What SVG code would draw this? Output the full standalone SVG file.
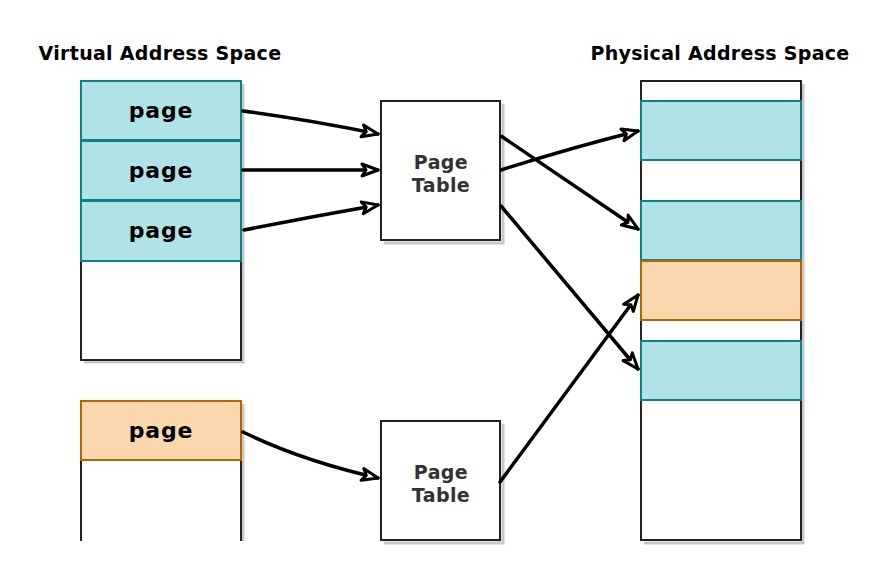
<svg xmlns="http://www.w3.org/2000/svg" width="880" height="580" viewBox="0 0 880 580">
<defs>
<marker id="arr" viewBox="0 0 20 16" refX="18" refY="8" markerWidth="20" markerHeight="16" markerUnits="userSpaceOnUse" orient="auto">
<path d="M2,2 L18,8 L2,14 L6,8 Z" fill="#fff" stroke="#000" stroke-width="3" stroke-linejoin="round"/>
</marker>
</defs>
<style>
.title{font-family:"DejaVu Sans",Verdana,sans-serif;font-weight:bold;font-size:19px;fill:#000;letter-spacing:0.3px}
.lbl{font-family:"DejaVu Sans",Verdana,sans-serif;font-weight:bold;font-size:22px;fill:#000;letter-spacing:0.8px}
.pt{font-family:"DejaVu Sans",Verdana,sans-serif;font-weight:bold;font-size:19px;fill:#333;letter-spacing:0.4px}
.shadow{fill:none;stroke:#c8c8c8;stroke-width:3}
.box{fill:#fff;stroke:#222;stroke-width:2}
.teal{fill:#b0e3e6;stroke:#0e8088;stroke-width:2}
.orange{fill:#fad7ac;stroke:#b46504;stroke-width:2}
.conn{fill:none;stroke:#000;stroke-width:3.5;stroke-linecap:round}
</style>
<text class="title" x="160" y="60" text-anchor="middle">Virtual Address Space</text>
<text class="title" x="720" y="60" text-anchor="middle">Physical Address Space</text>

<g id="virtual-space-1">
<path class="shadow" d="M243,84 V362 H84"/>
<rect class="box" x="81" y="81" width="160" height="279"/>
</g>
<g id="vpage-1">
<rect class="teal" x="81" y="81" width="160" height="59"/>
<text class="lbl" x="161" y="118" text-anchor="middle">page</text>
</g>
<g id="vpage-2">
<rect class="teal" x="81" y="141" width="160" height="59"/>
<text class="lbl" x="161" y="178" text-anchor="middle">page</text>
</g>
<g id="vpage-3">
<rect class="teal" x="81" y="201" width="160" height="60"/>
<text class="lbl" x="161" y="238" text-anchor="middle">page</text>
</g>

<g id="virtual-space-2">
<path class="shadow" d="M243,404 V541"/>
<path d="M81,400 V541 M241,400 V541" stroke="#222" stroke-width="2" fill="none"/>
</g>
<g id="vpage-4">
<rect class="orange" x="81" y="401" width="160" height="59"/>
<text class="lbl" x="161" y="438" text-anchor="middle">page</text>
</g>

<g id="page-table-1">
<path class="shadow" d="M503,104 V243 H384"/>
<rect class="box" x="381" y="101" width="119" height="139"/>
<text class="pt" x="441" y="169" text-anchor="middle">Page</text>
<text class="pt" x="441" y="192" text-anchor="middle">Table</text>
</g>
<g id="page-table-2">
<path class="shadow" d="M503,424 V543 H384"/>
<rect class="box" x="381" y="421" width="119" height="119"/>
<text class="pt" x="441" y="479" text-anchor="middle">Page</text>
<text class="pt" x="441" y="502" text-anchor="middle">Table</text>
</g>

<g id="physical-space">
<path class="shadow" d="M803,84 V543 H644"/>
<rect class="box" x="641" y="81" width="160" height="459"/>
</g>
<g id="frame-1"><rect class="teal" x="641" y="101" width="160" height="59"/></g>
<g id="frame-2"><rect class="teal" x="641" y="201" width="160" height="59"/></g>
<g id="frame-3"><rect class="orange" x="641" y="261" width="160" height="59"/></g>
<g id="frame-4"><rect class="teal" x="641" y="341" width="160" height="59"/></g>

<g id="connectors">
<path class="conn" d="M243,111 Q310,120 378,134" marker-end="url(#arr)"/>
<path class="conn" d="M243,170 L378,170" marker-end="url(#arr)"/>
<path class="conn" d="M244,230 Q310,217 378,205" marker-end="url(#arr)"/>
<path class="conn" d="M243,432 Q300,460 378,478" marker-end="url(#arr)"/>
<path class="conn" d="M501,170 Q570,148 638,131" marker-end="url(#arr)"/>
<path class="conn" d="M501,136 L638,229" marker-end="url(#arr)"/>
<path class="conn" d="M501,206 L638,369" marker-end="url(#arr)"/>
<path class="conn" d="M500,482 L638,295" marker-end="url(#arr)"/>
</g>
</svg>
